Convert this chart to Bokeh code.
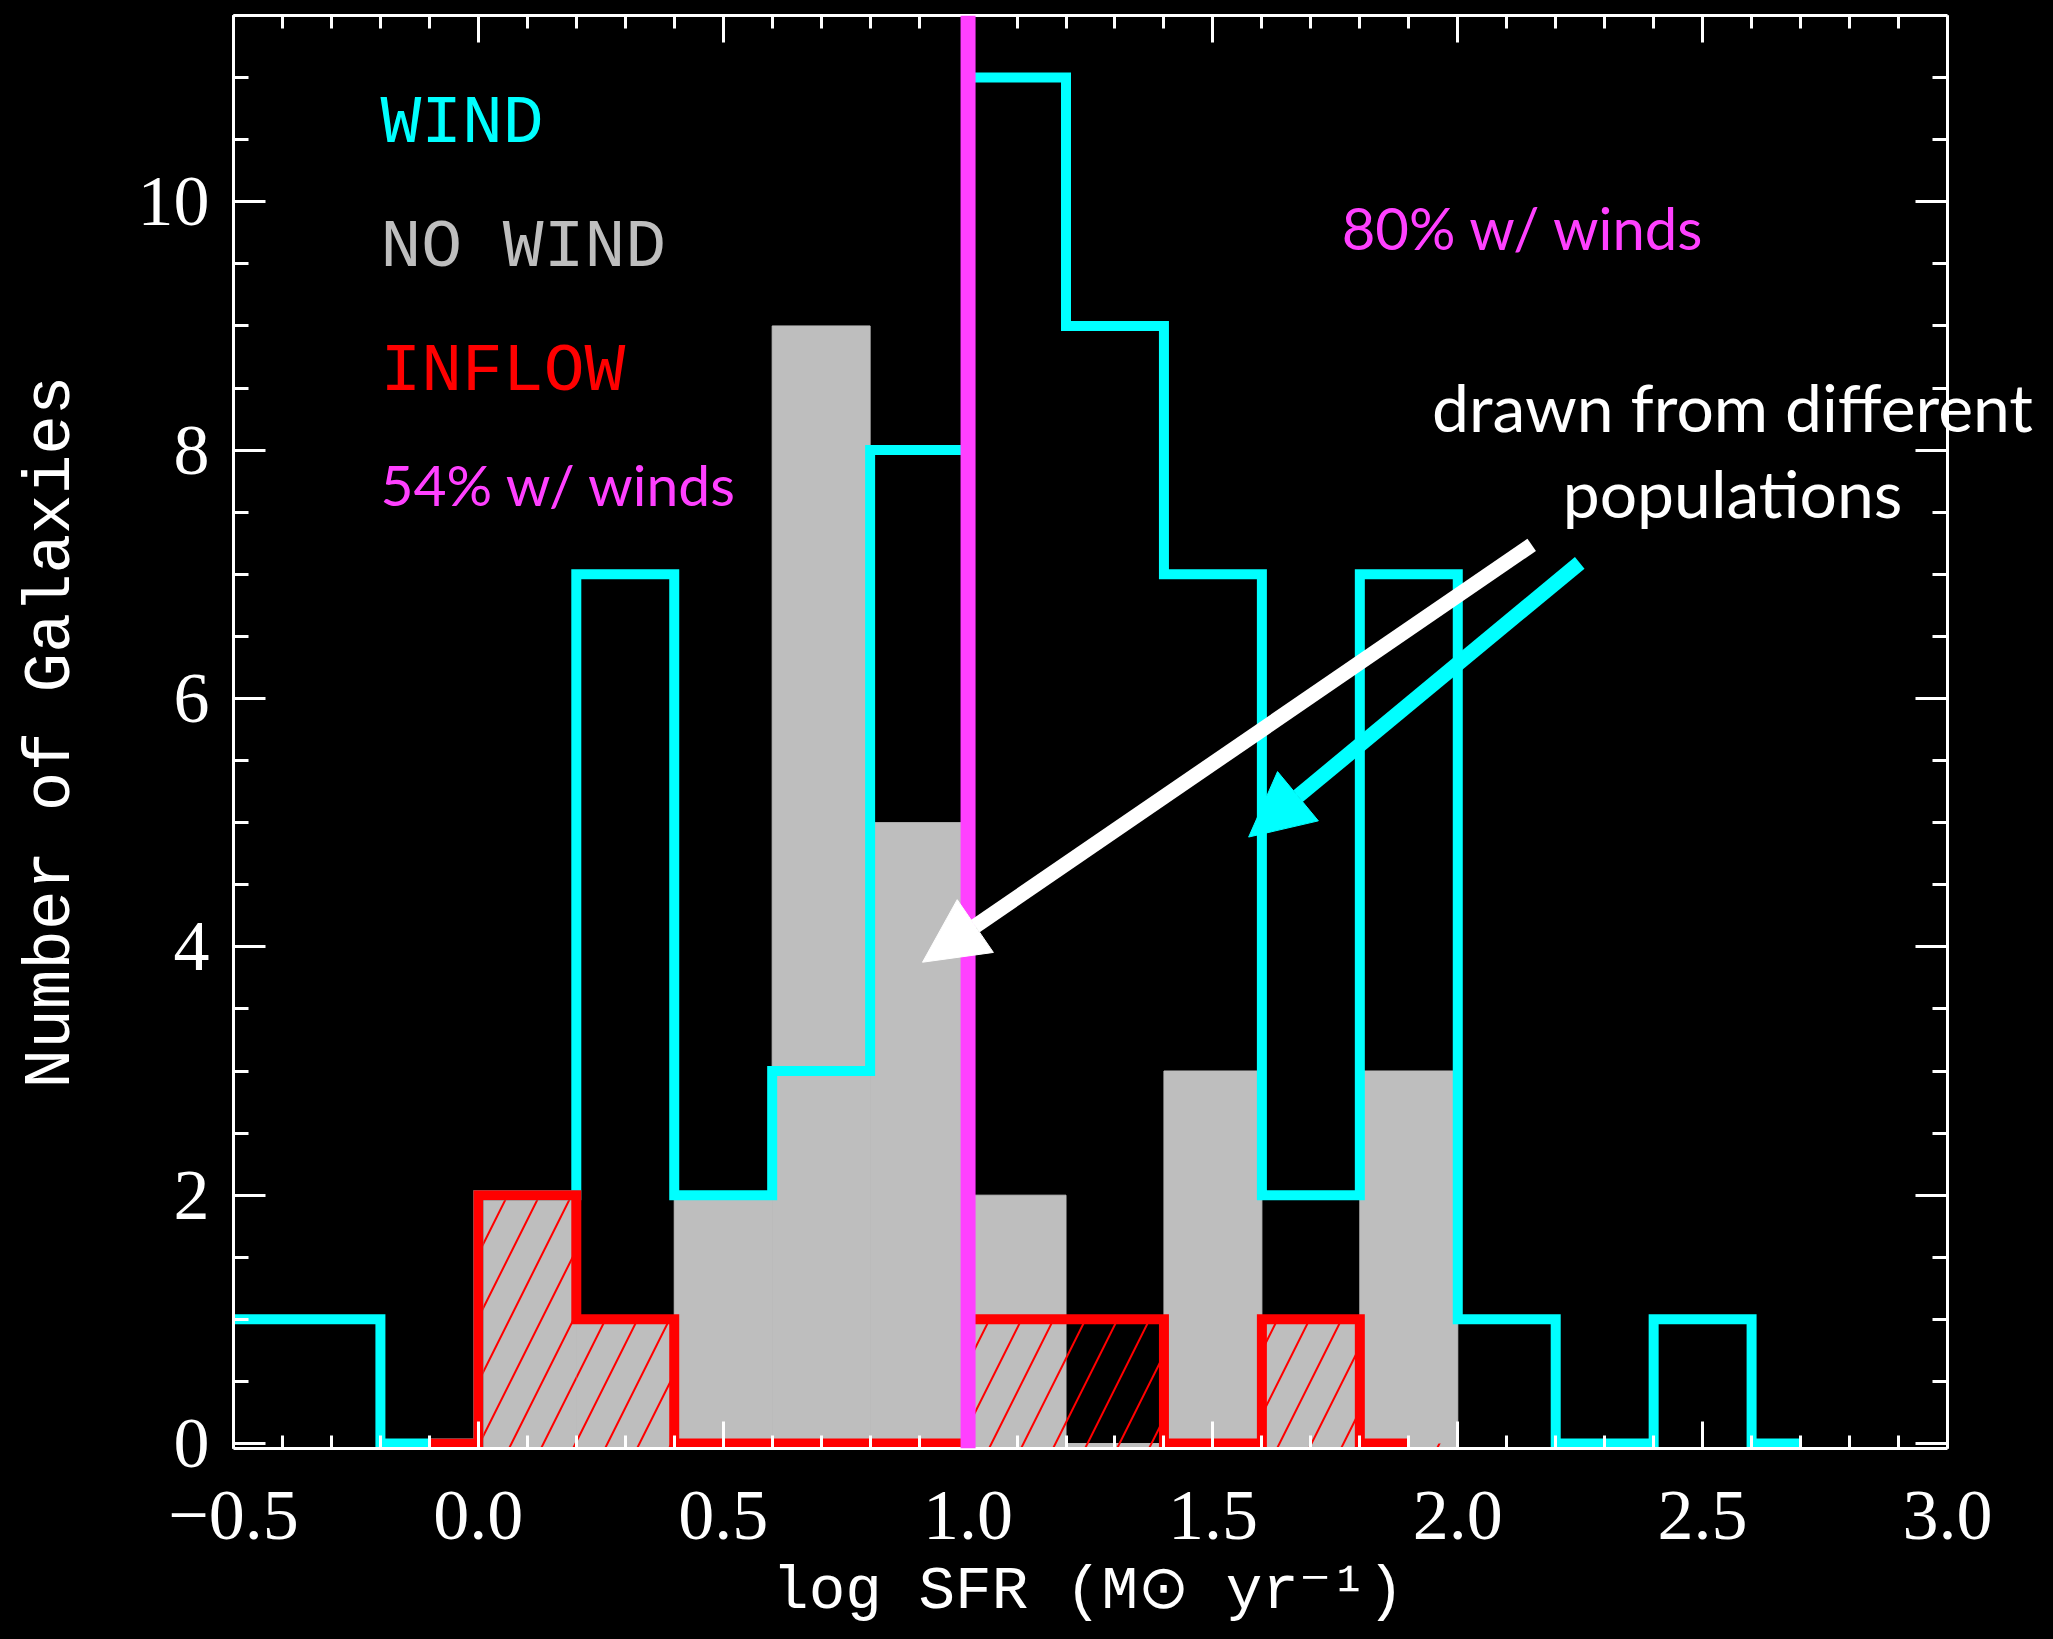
from bokeh.plotting import figure
from bokeh.models import (Range1d, LinearAxis, SingleIntervalTicker, Label, Arrow,
                          NormalHead, Span, CustomJSTickFormatter)
from bokeh.embed import file_html
from bokeh.resources import INLINE

# ---------------- data ----------------
# WIND histogram (cyan step), IDL psym=10 style: values at bin centres
wind_centers = [-0.5, -0.3, -0.1, 0.1, 0.3, 0.5, 0.7, 0.9, 1.1, 1.3, 1.5, 1.7, 1.9, 2.1, 2.3, 2.5, 2.7]
wind_counts = [1, 1, 0, 2, 7, 2, 3, 8, 11, 9, 7, 2, 7, 1, 0, 1, 0]

# NO WIND histogram (grey filled bars)
nowind_centers = [0.1, 0.3, 0.5, 0.7, 0.9, 1.1, 1.3, 1.5, 1.7, 1.9]
nowind_counts = [2, 1, 2, 9, 5, 2, 0, 3, 1, 3]

# INFLOW histogram (red hatched step)
inflow_centers = [-0.1, 0.1, 0.3, 0.5, 0.7, 0.9, 1.1, 1.3, 1.5, 1.7, 1.9]
inflow_counts = [0, 2, 1, 0, 0, 0, 1, 1, 0, 1, 0]

bin_width = 0.2
sfr_split = 1.0

x_axis_bounds = (-0.5, 3.0)
y_axis_top = 11.5
x_tick_values = [-0.5, 0.0, 0.5, 1.0, 1.5, 2.0, 2.5, 3.0]
x_tick_labels = ["\u22120.5", "0.0", "0.5", "1.0", "1.5", "2.0", "2.5", "3.0"]

# annotation arrows (data coordinates: tail -> tip)
arrow_white = dict(x_start=2.151, y_start=7.237, x_end=0.907, y_end=3.876)
arrow_cyan = dict(x_start=2.249, y_start=7.092, x_end=1.573, y_end=4.884)

CYAN = "#00FFFF"
GREY = "#BEBEBE"
RED = "#FF0000"
MAGENTA = "#FF40FF"

Y_START = -0.04  # a hair below zero so the thick zero-level steps are not clipped


def idl_step(xc, yc):
    xs, ys = [xc[0]], [yc[0]]
    for i in range(len(xc) - 1):
        mid = (xc[i] + xc[i + 1]) / 2.0
        xs += [mid, mid]
        ys += [yc[i], yc[i + 1]]
    xs.append(xc[-1])
    ys.append(yc[-1])
    return xs, ys


# frame extends past the drawn box on the right so the annotation text is not clipped
p = figure(width=2053, height=1639, output_backend="svg", toolbar_location=None,
           x_range=Range1d(-0.5, 3.192), y_range=Range1d(Y_START, y_axis_top),
           min_border_left=233, min_border_right=12, min_border_top=15, min_border_bottom=191,
           background_fill_color="black", border_fill_color="black", outline_line_color=None)
p.styles = {"background-color": "black"}
p.grid.visible = False


def style_axis(ax, major, minor):
    ax.axis_line_color = "white"
    ax.axis_line_width = 3
    ax.major_tick_line_color = "white"
    ax.major_tick_line_width = 3
    ax.minor_tick_line_color = "white"
    ax.minor_tick_line_width = 3
    ax.major_tick_in = major
    ax.major_tick_out = 0
    ax.minor_tick_in = minor
    ax.minor_tick_out = 0
    ax.major_label_text_color = "white"


xax = p.xaxis[0]
xax.ticker = SingleIntervalTicker(interval=0.5, num_minor_ticks=5)
xax.major_label_overrides = dict(zip(x_tick_values, x_tick_labels))
xax.bounds = x_axis_bounds
style_axis(xax, 27, 13)
xax.major_label_text_font = "Liberation Serif"
xax.major_label_text_font_size = "72px"
xax.major_label_standoff = 43
# trailing no-break spaces re-centre the label under the drawn box (the frame is wider)
xax.axis_label = "log SFR (M\u2299 yr\u207b\u00b9)" + "\u00a0\u00a0\u00a0"
xax.axis_label_text_font = "Liberation Mono"
xax.axis_label_text_font_size = "61px"
xax.axis_label_text_font_style = "normal"
xax.axis_label_text_color = "white"
xax.axis_label_standoff = 15

yax = p.yaxis[0]
yax.ticker = SingleIntervalTicker(interval=2, num_minor_ticks=4)
style_axis(yax, 32, 15)
yax.major_label_text_font = "Liberation Serif"
yax.major_label_text_font_size = "72px"
yax.major_label_standoff = 24
yax.axis_label = "Number of Galaxies"
yax.axis_label_text_font = "Liberation Mono"
yax.axis_label_text_font_size = "66px"
yax.axis_label_text_font_style = "normal"
yax.axis_label_text_color = "white"
yax.axis_label_standoff = 46

top = LinearAxis(ticker=SingleIntervalTicker(interval=0.5, num_minor_ticks=5),
                 formatter=CustomJSTickFormatter(code="return ''"), bounds=x_axis_bounds)
style_axis(top, 27, 13)
top.major_label_standoff = 0
top.major_label_text_font_size = "1px"
p.add_layout(top, "above")

right = LinearAxis(ticker=SingleIntervalTicker(interval=2, num_minor_ticks=4),
                   formatter=CustomJSTickFormatter(code="return ''"),
                   fixed_location=x_axis_bounds[1])
style_axis(right, 32, 15)
right.major_label_standoff = 0
right.major_label_text_font_size = "1px"
p.add_layout(right, "right")

# grey NO WIND bars
p.quad(left=[c - bin_width / 2 for c in nowind_centers],
       right=[c + bin_width / 2 for c in nowind_centers],
       top=nowind_counts, bottom=Y_START, fill_color=GREY, line_color=GREY, line_width=1)

# red hatching for INFLOW bins
p.quad(left=[c - bin_width / 2 for c in inflow_centers],
       right=[c + bin_width / 2 for c in inflow_centers],
       top=inflow_counts, bottom=Y_START, fill_alpha=0, line_color=None,
       hatch_pattern="/", hatch_color=RED, hatch_scale=64, hatch_weight=2)

# WIND step
wx, wy = idl_step(wind_centers, wind_counts)
p.line(wx, wy, line_color=CYAN, line_width=10, line_join="miter")

# INFLOW step
ix, iy = idl_step(inflow_centers, inflow_counts)
p.line(ix, iy, line_color=RED, line_width=10, line_join="miter")

# dividing line at log SFR = 1
p.add_layout(Span(location=sfr_split, dimension="height", line_color=MAGENTA, line_width=15))

# legend-like texts
for yv, txt, col in [(10.63, "WIND", CYAN), (9.63, "NO WIND", GREY), (8.63, "INFLOW", RED)]:
    p.add_layout(Label(x=-0.2, y=yv, text=txt, text_color=col, text_font="Liberation Mono",
                       text_font_size="68px", text_baseline="alphabetic"))

p.add_layout(Label(x=-0.2, y=7.73, text="54% w/ winds", text_color=MAGENTA, text_font="Lato",
                   text_font_size="57px", text_baseline="alphabetic"))
p.add_layout(Label(x=1.763, y=9.79, text="80% w/ winds", text_color=MAGENTA, text_font="Lato",
                   text_font_size="58px", text_baseline="alphabetic"))
p.add_layout(Label(x=2.561, y=8.35, text="drawn from different", text_color="white", text_font="Lato",
                   text_font_size="66px", text_baseline="alphabetic", text_align="center"))
p.add_layout(Label(x=2.561, y=7.66, text="populations", text_color="white", text_font="Lato",
                   text_font_size="66px", text_baseline="alphabetic", text_align="center"))

# arrows
p.add_layout(Arrow(end=NormalHead(size=64, fill_color="white", line_color="white", line_width=1),
                   line_color="white", line_width=15, **arrow_white))
p.add_layout(Arrow(end=NormalHead(size=64, fill_color=CYAN, line_color=CYAN, line_width=1),
                   line_color=CYAN, line_width=15, **arrow_cyan))

open("out.html", "w").write(file_html(p, INLINE))
